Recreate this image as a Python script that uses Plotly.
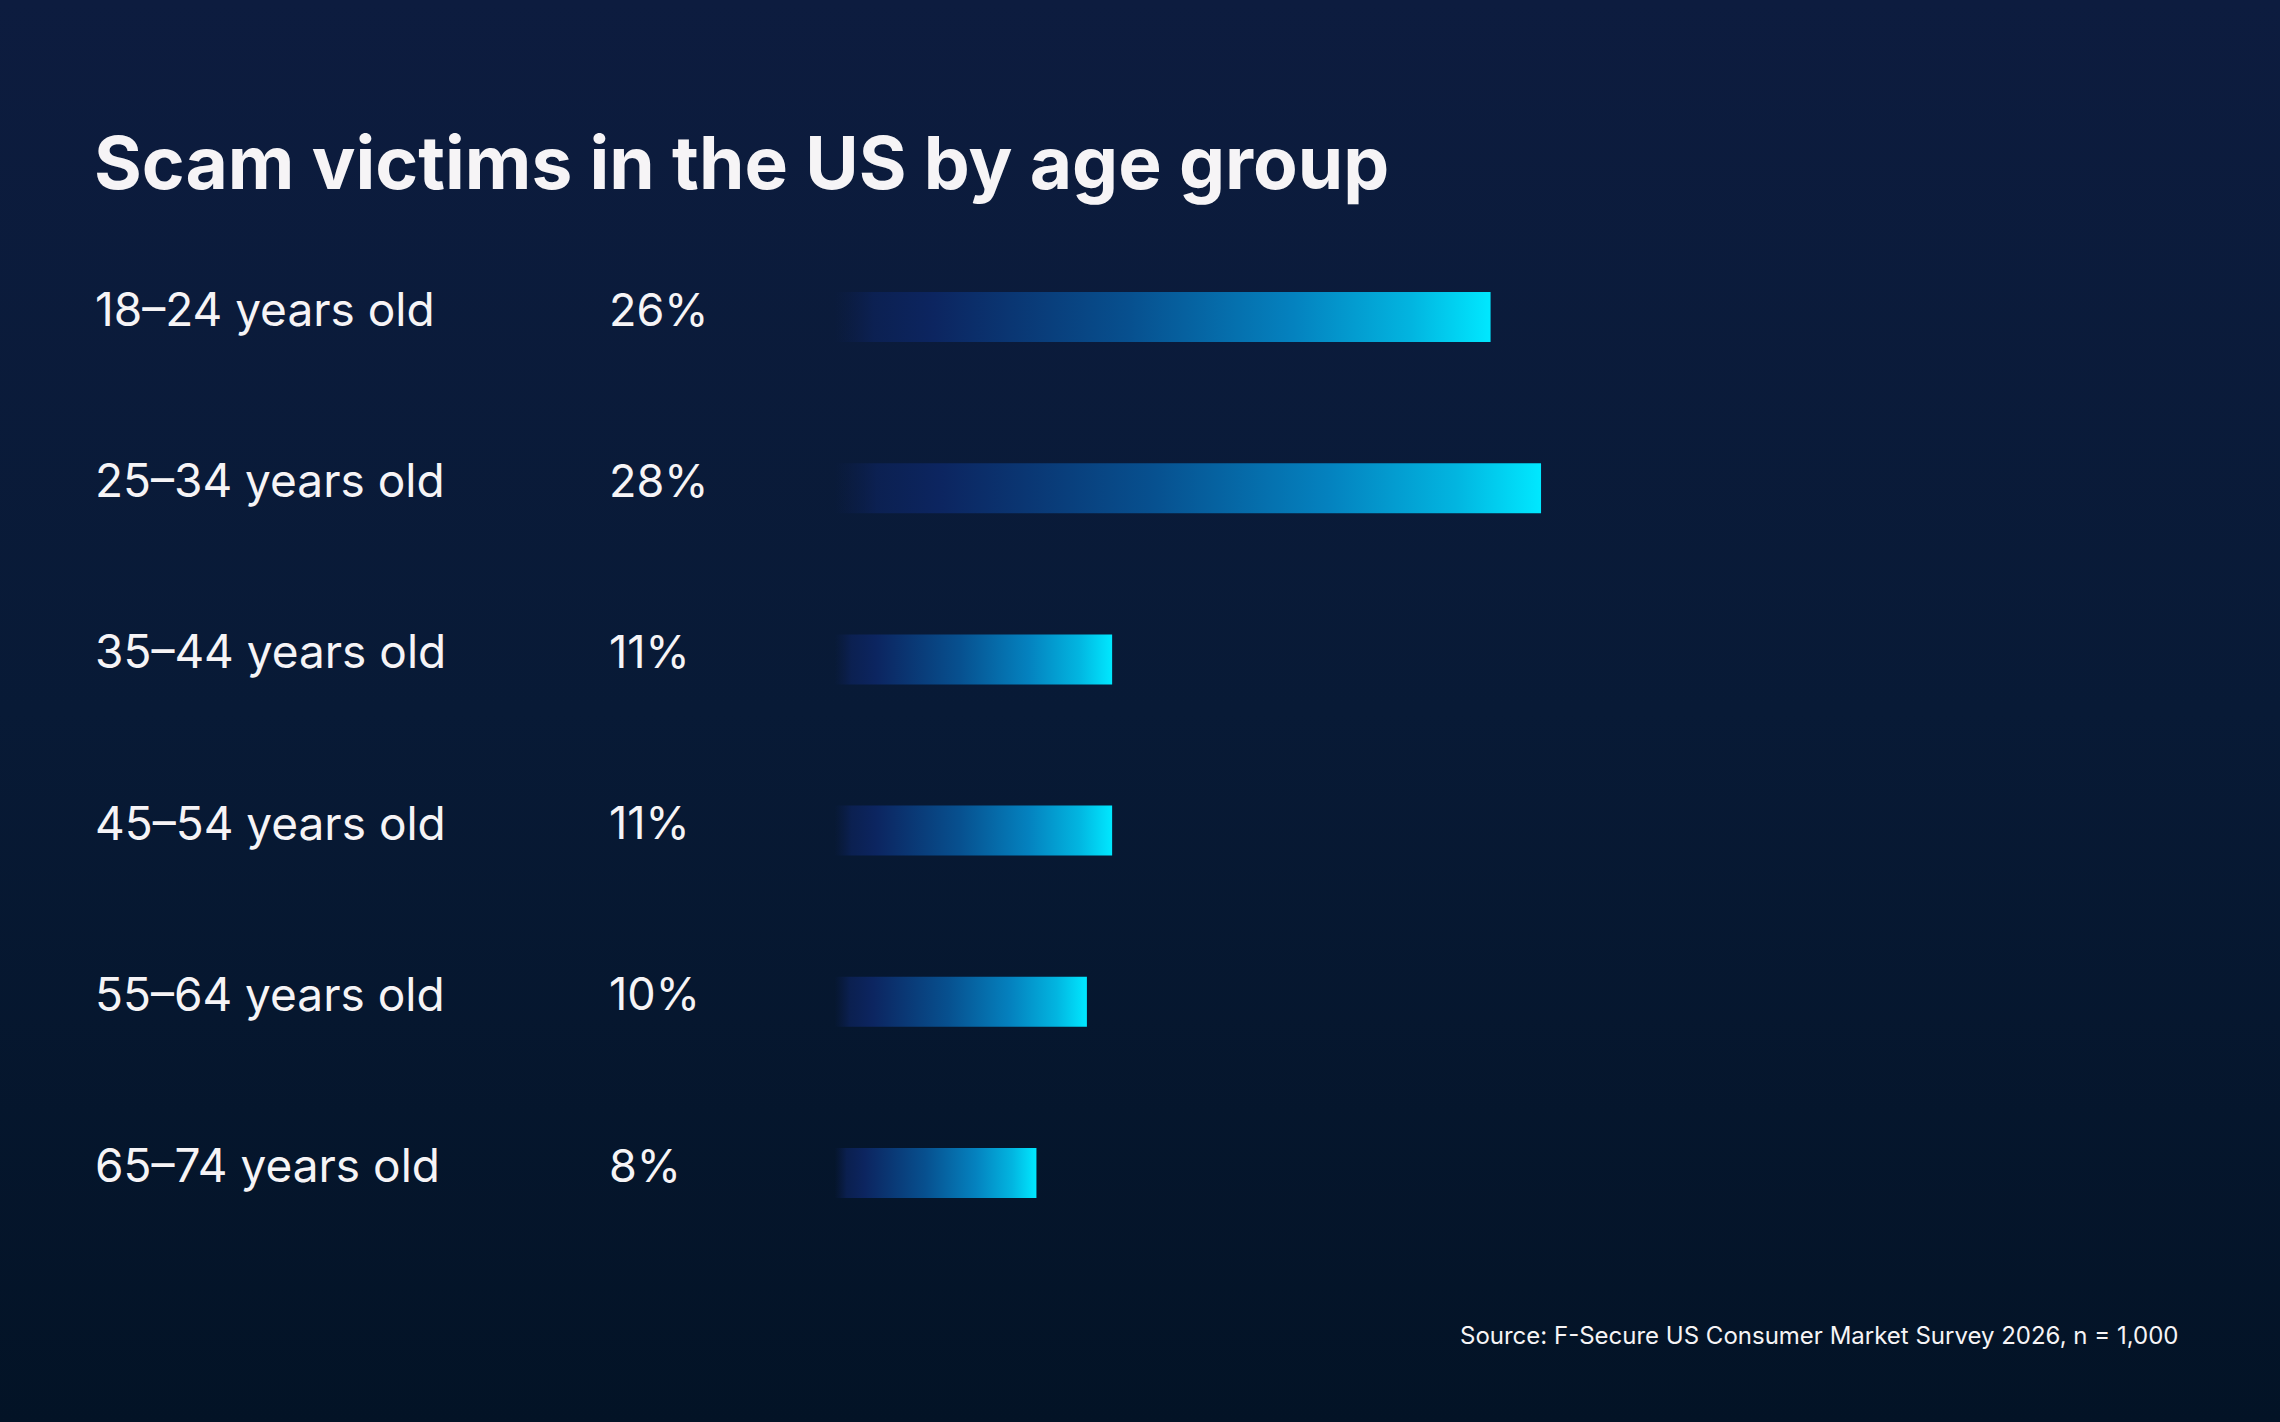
import plotly.graph_objects as go

# data
age_groups = ["18–24 years old", "25–34 years old", "35–44 years old",
              "45–54 years old", "55–64 years old", "65–74 years old"]
victim_pct = [26, 28, 11, 11, 10, 8]

title_text = "Scam victims in the US by age group"
source_text = "Source: F-Secure US Consumer Market Survey 2026, n = 1,000"

W, H = 2280, 1422
FONT = "Inter"
TEXT_COL = "#f6f4f6"

BAR_SCALE = [
    [0.0, "rgba(12,30,80,0)"],
    [0.06, "rgba(12,34,88,0.8)"],
    [0.15, "#0c2560"],
    [0.45, "#07508f"],
    [0.70, "#0482bf"],
    [0.88, "#02b5e0"],
    [1.0, "#00e8ff"],
]

fig = go.Figure()

# background gradient on its own hidden axes
fig.add_trace(go.Scatter(
    x=[0, 1, 1, 0, 0], y=[0, 0, 1, 1, 0],
    mode="lines", line=dict(width=0, color="rgba(0,0,0,0)"),
    fill="toself",
    fillgradient=dict(type="vertical",
                      colorscale=[[0, "#031326"], [0.5, "#081a36"], [1, "#0d1c3f"]]),
    hoverinfo="skip", showlegend=False,
    xaxis="x", yaxis="y",
))

half = 0.146
for i, v in enumerate(victim_pct):
    fig.add_trace(go.Scatter(
        x=[0, v, v, 0, 0],
        y=[i - half, i - half, i + half, i + half, i - half],
        mode="lines", line=dict(width=0, color="rgba(0,0,0,0)"),
        fill="toself",
        fillgradient=dict(type="horizontal", colorscale=BAR_SCALE),
        hoverinfo="skip", showlegend=False,
        xaxis="x2", yaxis="y2",
    ))

annotations = []
for i, (lab, v) in enumerate(zip(age_groups, victim_pct)):
    annotations.append(dict(
        text=lab, x=93 / W, xref="paper", y=i, yref="y2",
        xanchor="left", yanchor="middle", yshift=8, showarrow=False,
        font=dict(family=FONT, size=46, color=TEXT_COL),
    ))
    annotations.append(dict(
        text=f"{v}%", x=607 / W, xref="paper", y=i, yref="y2",
        xanchor="left", yanchor="middle", yshift=8, showarrow=False,
        font=dict(family=FONT, size=45, color=TEXT_COL),
    ))

annotations.append(dict(
    text=f"<b>{title_text}</b>", x=92 / W, xref="paper", y=1 - 163 / H, yref="paper",
    xanchor="left", yanchor="middle", showarrow=False,
    font=dict(family=FONT, size=73, color=TEXT_COL),
))
annotations.append(dict(
    text=source_text, x=2180 / W, xref="paper", y=1 - 1335 / H, yref="paper",
    xanchor="right", yanchor="middle", showarrow=False,
    font=dict(family=FONT, size=24, color=TEXT_COL),
))

hidden = dict(visible=False, showgrid=False, zeroline=False, fixedrange=True)
fig.update_layout(
    width=W, height=H,
    margin=dict(l=0, r=0, t=0, b=0),
    paper_bgcolor="#081a35",
    plot_bgcolor="rgba(0,0,0,0)",
    xaxis=dict(domain=[0, 1], range=[0, 1], **hidden),
    yaxis=dict(domain=[0, 1], range=[0, 1], **hidden),
    xaxis2=dict(domain=[834.6 / W, (834.6 + 40 * 25.23) / W], range=[0, 40], anchor="y2", **hidden),
    yaxis2=dict(domain=[1 - 1258.6 / H, 1 - 231.4 / H], range=[5.5, -0.5], anchor="x2", **hidden),
    annotations=annotations,
    showlegend=False,
)

# drop the default page margin so the figure fills the window
fig.write_html("out.html", config={"displayModeBar": False},
               post_script="document.body.style.margin='0';document.body.style.background='#081a35';")
